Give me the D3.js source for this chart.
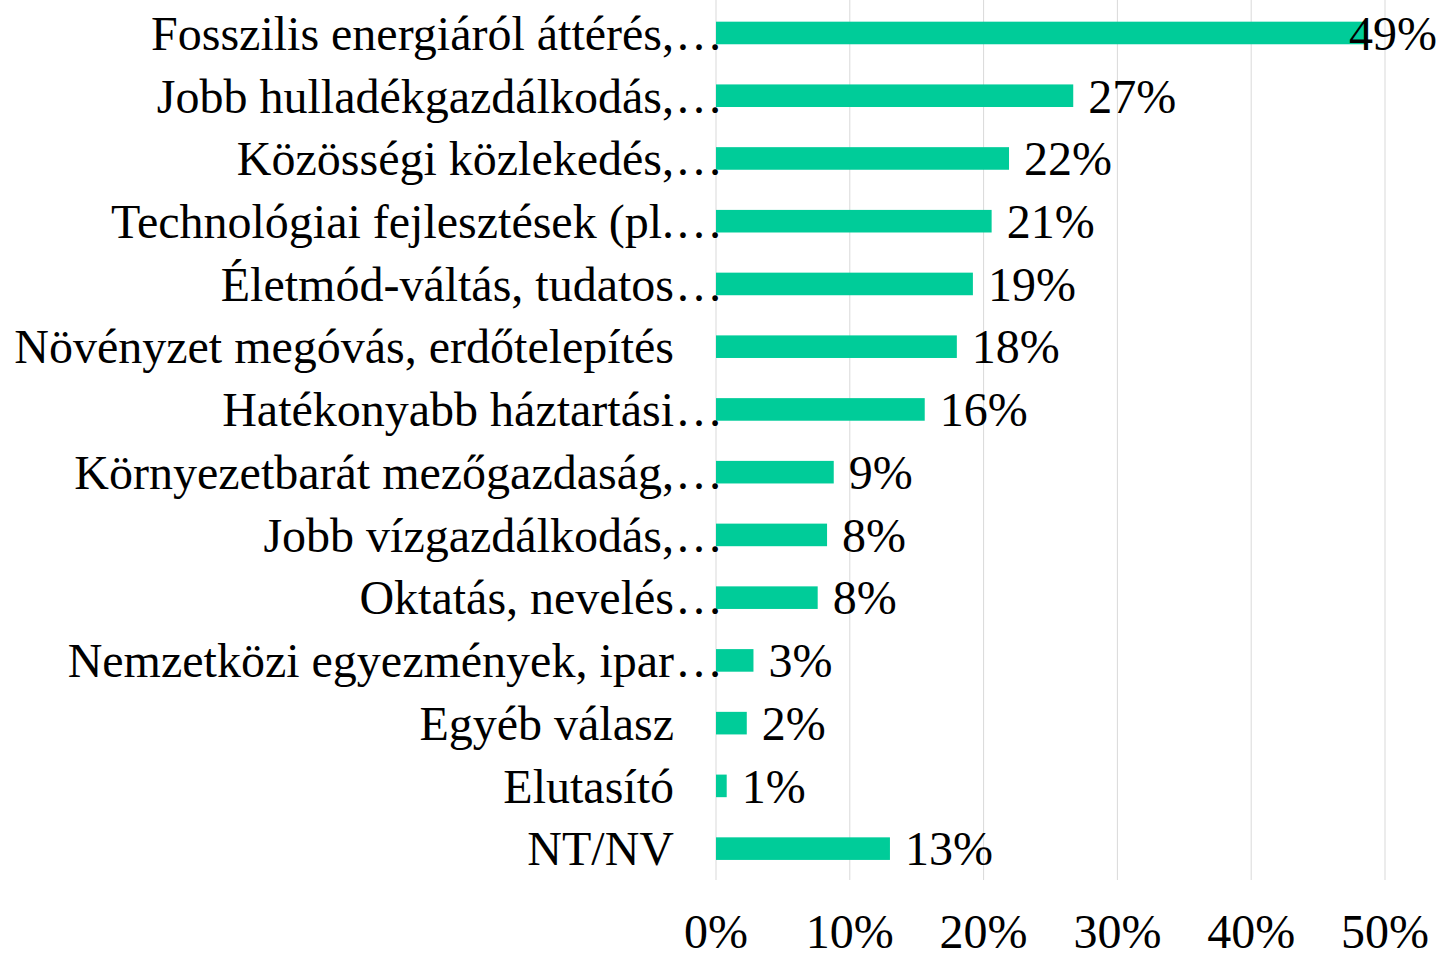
<!DOCTYPE html>
<html>
<head>
<meta charset="utf-8">
<script src="https://cdn.jsdelivr.net/npm/d3@7"></script>
<style>
  body { margin: 0; background: #fff; }
  text { font-family: "Liberation Serif", "Times New Roman", serif; fill: #000; }
</style>
</head>
<body>
<svg id="chart" width="1440" height="955"></svg>
<script>
// categories (top to bottom); truncated ones get an ellipsis like in the original
const categories = [
  "Fosszilis energiáról áttérés,",
  "Jobb hulladékgazdálkodás,",
  "Közösségi közlekedés,",
  "Technológiai fejlesztések (pl.",
  "Életmód-váltás, tudatos",
  "Növényzet megóvás, erdőtelepítés",
  "Hatékonyabb háztartási",
  "Környezetbarát mezőgazdaság,",
  "Jobb vízgazdálkodás,",
  "Oktatás, nevelés",
  "Nemzetközi egyezmények, ipar",
  "Egyéb válasz",
  "Elutasító",
  "NT/NV"
];
const truncated = [true, true, true, true, true, false, true, true, true, true, true, false, false, false];
const values = [48.6, 26.7, 21.9, 20.6, 19.2, 18.0, 15.6, 8.8, 8.3, 7.6, 2.8, 2.3, 0.8, 13.0];
const ticks = [0, 10, 20, 30, 40, 50];

const svg = d3.select("#chart");
const fontSize = 48;

const x = d3.scaleLinear().domain([0, 50]).range([716, 1385]);
const y = d3.scaleBand().domain(categories).range([1.6, 880]).paddingInner(0.64).paddingOuter(0.32);

// gridlines
svg.append("g")
  .selectAll("line")
  .data(ticks)
  .join("line")
  .attr("x1", d => x(d)).attr("x2", d => x(d))
  .attr("y1", 0).attr("y2", 880)
  .attr("stroke", "#d9d9d9")
  .attr("stroke-width", 1);

// x axis tick labels
svg.append("g")
  .selectAll("text")
  .data(ticks)
  .join("text")
  .attr("x", d => x(d))
  .attr("y", 948)
  .attr("text-anchor", "middle")
  .attr("font-size", fontSize)
  .text(d => d + "%");

// bars
svg.append("g")
  .selectAll("rect")
  .data(values)
  .join("rect")
  .attr("x", x(0))
  .attr("y", (d, i) => y(categories[i]))
  .attr("width", d => x(d) - x(0))
  .attr("height", y.bandwidth())
  .attr("fill", "#00cc99");

// category labels
const labels = svg.append("g");
categories.forEach((c, i) => {
  const cy = y(c) + y.bandwidth() / 2;
  labels.append("text")
    .attr("x", 674)
    .attr("y", cy)
    .attr("dy", "0.35em")
    .attr("text-anchor", "end")
    .attr("font-size", fontSize)
    .text(c);
  if (truncated[i]) {
    labels.append("text")
      .attr("x", 675)
      .attr("y", cy)
      .attr("dy", "0.35em")
      .attr("font-size", fontSize)
      .text("…");
  }
});

// data labels
svg.append("g")
  .selectAll("text")
  .data(values)
  .join("text")
  .attr("font-size", fontSize)
  .attr("y", (d, i) => y(categories[i]) + y.bandwidth() / 2)
  .attr("dy", "0.35em")
  .text(d => Math.round(d) + "%")
  .each(function (d) {
    const t = d3.select(this);
    const w = this.getComputedTextLength();
    let px = x(d) + 15;
    if (px + w > 1437) px = 1437 - w;
    t.attr("x", px);
  });
</script>
</body>
</html>
